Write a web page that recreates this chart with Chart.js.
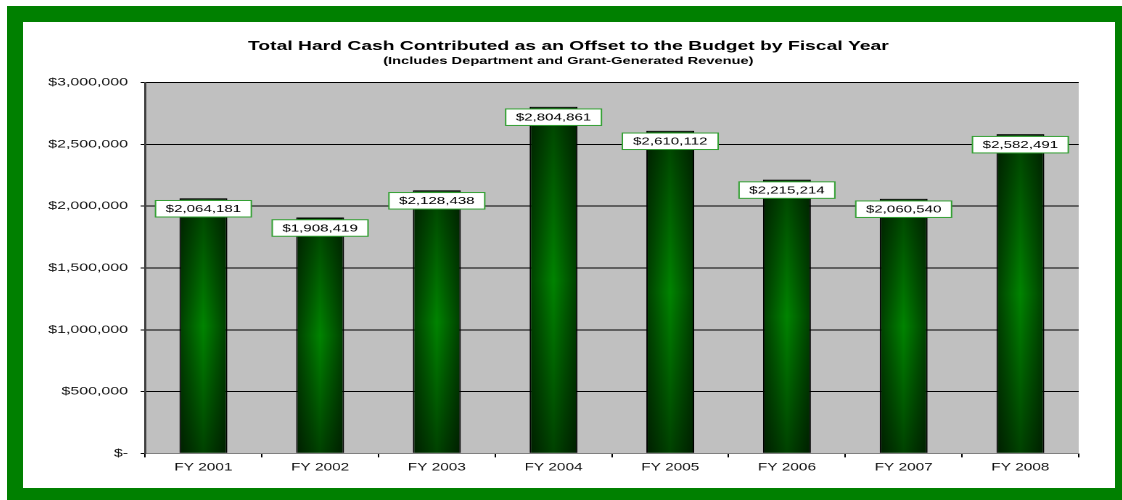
<!DOCTYPE html>
<html>
<head>
<meta charset="utf-8">
<script src="https://cdn.jsdelivr.net/npm/chart.js@4.4.1/dist/chart.umd.min.js"></script>
<style>
  html, body { margin: 0; padding: 0; background: #ffffff; width: 1122px; height: 500px; overflow: hidden; }
  #frame { position: absolute; left: 7px; top: 6px; width: 1115px; height: 494px; background: #008000; }
  #inner { position: absolute; left: 23px; top: 22px; width: 1092px; height: 466px; background: #ffffff; overflow: hidden; }
  #wrap { position: absolute; left: 0; top: 0; width: 751.6px; height: 466px; transform: scaleX(1.4502); transform-origin: 0 0; }
</style>
</head>
<body>
<div id="frame"></div>
<div id="inner"><div id="wrap"><canvas id="c"></canvas></div></div>
<script>
// ---- data ----
const categories = ['FY 2001', 'FY 2002', 'FY 2003', 'FY 2004', 'FY 2005', 'FY 2006', 'FY 2007', 'FY 2008'];
const hardCash = [2064181, 1908419, 2128438, 2804861, 2610112, 2215214, 2060540, 2582491];
const yMin = 0;
const yMax = 3000000;
const yStep = 500000;
const titleText = 'Total Hard Cash Contributed as an Offset to the Budget by Fiscal Year';
const subtitleText = '(Includes Department and Grant-Generated Revenue)';

const BAR_FRAC = 0.41;
const FONT = '"Liberation Sans", Arial, Helvetica, sans-serif';

function money(v) { return v === 0 ? '$-' : '$' + v.toLocaleString('en-US'); }

function barFill(ctx) {
  const chart = ctx.chart;
  const xs = chart.scales && chart.scales.x, ys = chart.scales && chart.scales.y;
  if (ctx.type !== 'data' || !chart.chartArea || !xs || !ys) return '#006000';
  const i = ctx.dataIndex, v = ctx.raw;
  const w = (xs.width / categories.length) * BAR_FRAC;
  const cx = xs.getPixelForValue(i);
  const top = ys.getPixelForValue(v), bottom = ys.getPixelForValue(0);
  const h = Math.max(1, bottom - top);
  const sx = 3, sy = 2;
  const off = document.createElement('canvas');
  off.width = Math.max(2, Math.ceil(w * sx));
  off.height = Math.max(2, Math.ceil(h * sy));
  const o = off.getContext('2d');
  const hg = o.createLinearGradient(0, 0, off.width, 0);
  hg.addColorStop(0, 'rgb(0,62,0)');
  hg.addColorStop(0.5, 'rgb(0,132,0)');
  hg.addColorStop(1, 'rgb(0,62,0)');
  o.fillStyle = hg;
  o.fillRect(0, 0, off.width, off.height);
  const vg = o.createLinearGradient(0, 0, 0, off.height);
  vg.addColorStop(0, 'rgba(0,0,0,0.5)');
  vg.addColorStop(0.5, 'rgba(0,0,0,0)');
  vg.addColorStop(1, 'rgba(0,0,0,0.5)');
  o.fillStyle = vg;
  o.fillRect(0, 0, off.width, off.height);
  const pat = chart.ctx.createPattern(off, 'no-repeat');
  pat.setTransform(new DOMMatrix([1 / sx, 0, 0, 1 / sy, cx - w / 2, top]));
  return pat;
}

const valueBoxes = {
  id: 'valueBoxes',
  afterDatasetsDraw(chart) {
    const ctx = chart.ctx;
    const meta = chart.getDatasetMeta(0);
    ctx.save();
    ctx.font = '10.4px ' + FONT;
    ctx.textAlign = 'center';
    ctx.textBaseline = 'middle';
    meta.data.forEach((el, i) => {
      const txt = money(hardCash[i]);
      const bw = 66, bh = 16.5;
      const cy = el.y + 10.5;
      ctx.fillStyle = '#ffffff';
      ctx.fillRect(el.x - bw / 2, cy - bh / 2, bw, bh);
      ctx.strokeStyle = '#33a033';
      ctx.lineWidth = 1;
      ctx.strokeRect(el.x - bw / 2, cy - bh / 2, bw, bh);
      ctx.fillStyle = '#000000';
      ctx.fillText(txt, el.x, cy + 0.5);
    });
    ctx.restore();
  }
};

const plotBg = {
  id: 'plotBg',
  beforeDraw(chart) {
    const a = chart.chartArea;
    const ctx = chart.ctx;
    ctx.save();
    ctx.fillStyle = '#c0c0c0';
    ctx.fillRect(a.left, a.top, a.right - a.left, a.bottom - a.top);
    ctx.restore();
  }
};

new Chart(document.getElementById('c'), {
  type: 'bar',
  data: {
    labels: categories,
    datasets: [{
      data: hardCash,
      backgroundColor: barFill,
      borderColor: '#000000',
      borderWidth: 1,
      categoryPercentage: 1,
      barPercentage: BAR_FRAC
    }]
  },
  options: {
    responsive: true,
    maintainAspectRatio: false,
    animation: false,
    devicePixelRatio: 2,
    layout: { padding: { left: 0, right: 0, top: 0, bottom: 10.7 } },
    plugins: {
      legend: { display: false },
      tooltip: { enabled: false },
      title: {
        display: true, text: titleText, color: '#000000',
        font: { family: FONT, size: 13.3, weight: 'bold', lineHeight: 1.2 },
        padding: { top: 16.5, bottom: 0 }
      },
      subtitle: {
        display: true, text: subtitleText, color: '#000000',
        font: { family: FONT, size: 10.1, weight: 'bold', lineHeight: 1.2 },
        padding: { top: 0.5, bottom: 15.5 }
      }
    },
    scales: {
      x: {
        grid: { display: true, drawOnChartArea: false, drawTicks: true, tickLength: 4, color: '#000000', offset: true },
        border: { display: true, color: '#808080', width: 1 },
        ticks: { color: '#111111', padding: 3.6, font: { family: FONT, size: 10.6 }, maxRotation: 0, autoSkip: false }
      },
      y: {
        min: yMin, max: yMax,
        afterFit(scale) { scale.width = 84.1; },
        grid: { color: '#000000', lineWidth: 1, tickLength: 3, drawTicks: true },
        border: { display: true, color: '#404040', width: 1.5 },
        ticks: { stepSize: yStep, color: '#111111', padding: 8.7, font: { family: FONT, size: 11 }, callback: (v) => money(v) }
      },
      yRight: {
        position: 'right',
        display: true,
        min: yMin, max: yMax,
        afterFit(scale) { scale.width = 24.1; },
        grid: { display: false, drawTicks: false },
        border: { display: false },
        ticks: { display: false }
      }
    }
  },
  plugins: [plotBg, valueBoxes]
});
</script>
</body>
</html>
